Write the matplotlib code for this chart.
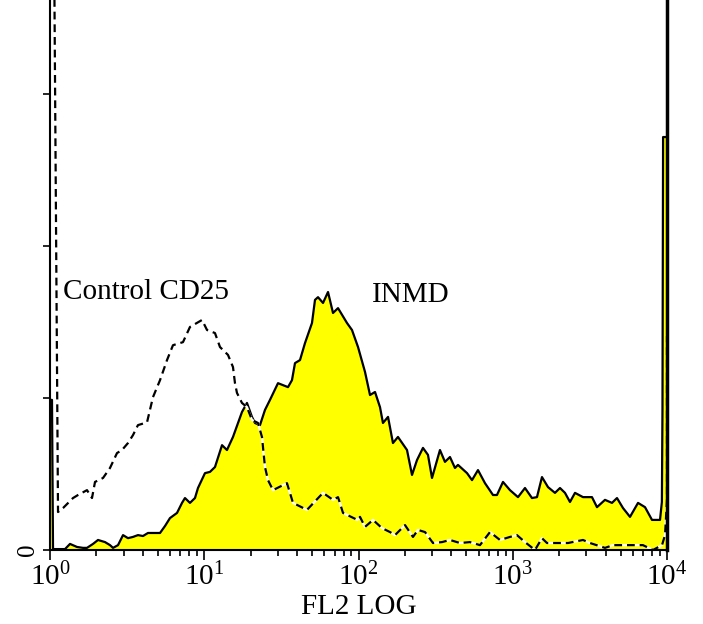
import numpy as np
import matplotlib
matplotlib.use('Agg')
import matplotlib.pyplot as plt

plt.rcParams['font.family'] = ['Liberation Serif', 'DejaVu Serif']
plt.rcParams['mathtext.fontset'] = 'custom'
plt.rcParams['mathtext.rm'] = 'Liberation Serif'
plt.rcParams['mathtext.default'] = 'regular'

# 1024-channel log amp, 4 decades -> FL2 = 10 ** (channel / 256)
# INMD histogram
inmd_channel = [0, 3.3, 5.0, 13.3, 24.9, 33.2, 44.8, 54.8, 61.4, 71.4,
                79.7, 91.3, 99.6, 104.6, 112.9, 121.2, 129.4, 137.7, 146.0, 154.3,
                162.6, 182.6, 190.9, 199.1, 210.8, 219.1, 224.0, 232.3, 240.6, 245.6,
                257.2, 265.5, 273.8, 285.5, 293.7, 303.7, 318.6, 326.9, 335.2, 340.2,
                348.5, 356.8, 365.1, 378.4, 395.0, 401.6, 406.6, 414.9, 423.2, 434.8,
                439.8, 444.8, 453.1, 461.4, 469.7, 478.0, 492.9, 501.2, 511.2, 522.8,
                531.1, 539.4, 547.7, 552.6, 561.0, 569.2, 577.5, 592.5, 600.8, 609.1,
                619.0, 627.3, 634.0, 647.2, 655.5, 663.8, 672.1, 677.1, 692.1, 700.4,
                710.3, 721.9, 735.2, 741.8, 751.8, 763.4, 776.7, 788.3, 799.9, 808.2,
                816.5, 826.5, 838.1, 846.4, 854.7, 863.0, 871.3, 884.6, 899.5, 907.8,
                921.1, 932.7, 941.0, 951.0, 962.6, 975.9, 987.5, 999.1, 1012.4, 1015.5,
                1016.5, 1017.5, 1024]
inmd_counts = [49.4, 49.4, 0.3, 0.3, 0.3, 2.0, 1.0, 0.7, 0.7, 2.0,
               3.3, 2.6, 1.6, 0.7, 1.6, 4.9, 3.9, 4.3, 4.9, 4.6,
               5.6, 5.6, 7.9, 10.5, 12.2, 15.5, 17.1, 15.5, 17.1, 20.4,
               25.3, 25.7, 27.3, 34.5, 32.9, 37.2, 45.4, 48.4, 43.8, 41.8,
               41.1, 46.1, 49.4, 54.9, 53.6, 55.9, 61.5, 62.5, 68.1, 74.7,
               82.3, 83.2, 81.3, 84.9, 78.0, 79.6, 74.7, 72.4, 66.8, 58.6,
               51.0, 52.0, 47.0, 41.8, 43.8, 35.2, 37.2, 32.9, 24.7, 29.6,
               33.6, 31.3, 23.7, 32.9, 29.0, 30.6, 27.0, 28.0, 25.3, 23.0,
               26.3, 22.0, 18.1, 18.1, 22.4, 19.7, 17.4, 20.4, 17.1, 17.4,
               24.0, 20.7, 18.8, 20.4, 18.8, 15.8, 18.8, 17.4, 17.4, 14.1,
               16.5, 15.5, 17.1, 13.8, 10.9, 15.5, 14.1, 9.9, 9.9, 15.8,
               46.1, 135.9, 135.9]

# Control CD25 histogram
ctrl_channel = [5.0, 13.3, 21.6, 38.2, 46.5, 61.4, 69.7, 74.7, 88.0, 99.6,
                111.2, 119.5, 129.4, 137.7, 146.0, 161.0, 170.9, 182.6, 194.2, 204.1,
                220.7, 232.3, 252.3, 260.6, 273.8, 282.1, 295.4, 303.7, 307.0, 310.3,
                318.6, 326.9, 335.2, 345.2, 351.8, 356.8, 361.8, 370.1, 393.3, 403.3,
                426.5, 453.1, 469.7, 478.0, 486.3, 510.2, 514.5, 522.8, 536.1, 551.0,
                564.3, 572.6, 589.2, 602.4, 610.7, 622.4, 635.6, 650.6, 663.8, 680.4,
                697.0, 713.6, 730.2, 746.8, 763.4, 775.0, 788.3, 804.9, 816.5, 824.8,
                859.7, 884.6, 896.2, 921.1, 934.4, 984.1, 1000.7, 1015.7, 1020.7, 1024,
                1024]
ctrl_counts = [250, 12.5, 13.8, 17.1, 18.1, 19.7, 17.1, 22.4, 23.7, 27.0,
               31.9, 32.9, 35.2, 37.8, 41.1, 42.0, 50.3, 55.9, 62.5, 67.4,
               68.4, 73.4, 75.7, 72.4, 71.4, 66.8, 64.2, 60.2, 54.9, 51.7,
               48.4, 47.0, 42.8, 41.8, 37.2, 27.3, 23.0, 19.7, 22.0, 15.5,
               13.2, 18.8, 16.5, 17.4, 12.2, 9.9, 10.9, 7.6, 9.9, 7.2,
               5.9, 4.9, 8.2, 4.3, 6.6, 5.9, 2.3, 2.6, 3.3, 2.3,
               2.6, 1.6, 5.9, 3.3, 4.3, 4.9, 2.6, 0.0, 3.9, 2.3,
               2.3, 3.3, 2.3, 0.7, 1.6, 1.6, 0.0, 1.6, 4.9, 16.5,
               70.4]

inmd_fl2 = 10 ** (np.array(inmd_channel) / 256)
ctrl_fl2 = 10 ** (np.array(ctrl_channel) / 256)

fig = plt.figure(figsize=(7.03, 6.24), dpi=100)
ax = fig.add_axes([50/703, 1 - 550/624, 617/703, 550/624])

ax.fill_between(inmd_fl2, inmd_counts, color='#ffff00', linewidth=0)
ax.plot(inmd_fl2, inmd_counts, color='black', linewidth=1.6)
ax.plot(ctrl_fl2, ctrl_counts, color='white', linewidth=1.6)
ax.plot(ctrl_fl2, ctrl_counts, color='black', linewidth=1.6, dashes=(3.5, 2.2))

ax.set_xscale('log')
ax.set_xlim(1, 10000)
ax.set_ylim(0, 181)

ax.spines['top'].set_visible(False)
ax.spines['left'].set_linewidth(1.5)
ax.spines['right'].set_linewidth(2.5)
ax.spines['bottom'].set_linewidth(1.5)

ax.set_xticks([1, 10, 100, 1000, 10000])
ax.set_xticklabels([r'$10^{0}$', r'$10^{1}$', r'$10^{2}$', r'$10^{3}$', r'$10^{4}$'],
                   fontsize=21)
ax.tick_params(axis='x', which='major', direction='out', length=7, width=1.2, pad=2)
ax.tick_params(axis='x', which='minor', direction='out', length=4, width=1.2)
ax.set_yticks([0, 50, 100, 150])
ax.set_yticklabels(['0', '', '', ''], rotation=90, fontsize=18, va='center')
ax.tick_params(axis='y', direction='out', length=5, width=1.2, pad=3)
ax.tick_params(right=False, top=False)

ax.set_xlabel('FL2 LOG', fontsize=21, labelpad=2)

ax.text(1.21, 84.9, 'Control CD25', fontsize=21, va='center', ha='left')
ax.text(122, 83.9, 'INMD', fontsize=21, va='center', ha='left')

fig.savefig('out.png', dpi=100)
